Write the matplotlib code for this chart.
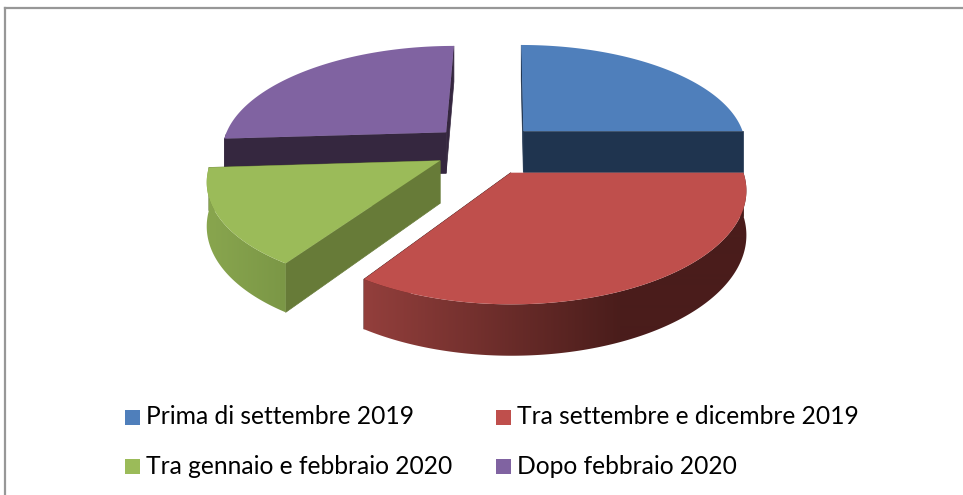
import numpy as np
import matplotlib
matplotlib.use('Agg')
import matplotlib.pyplot as plt
from matplotlib.colors import to_rgb
from matplotlib.patches import Polygon, Rectangle

labels = ['Prima di settembre 2019', 'Tra settembre e dicembre 2019',
          'Tra gennaio e febbraio 2020', 'Dopo febbraio 2020']
values = [25, 34.3, 14.7, 26]
top_colors = ['#4f7fbb', '#bf4f4c', '#9bbb59', '#8063a1']
face_colors = ['#1f344f', '#4a1d1b', '#677b38', '#35273f']
rim_left = ['#1f344f', '#933f3c', '#88a54e', '#35273f']
rim_right = ['#1f344f', '#4a1d1b', '#7b9746', '#35273f']
# x pixels over which the rim colour runs from left to right
rim_span = [(0, 963), (365, 620), (210, 285), (0, 963)]
explode = [0.25, 0.25, 0.22, 0.24]

# projection of the pie plane to pixels
cx, cy = 484, 149
vx = 507
ax_x, ax_y = 225, 104
persp = 0.15
depth = 42


def project(x, y, z=0):
    s = 1 / (1 + persp * y)
    return vx + (ax_x * x + cx - vx) * s, cy - ax_y * y * s + depth * z * s


def rim_image(i):
    xs = np.arange(963)
    t = np.clip((xs - rim_span[i][0]) / (rim_span[i][1] - rim_span[i][0]), 0, 1)
    a = np.array(to_rgb(rim_left[i]))
    b = np.array(to_rgb(rim_right[i]))
    return (a + (b - a) * t[:, None])[None, :, :]


def draw_slice(ax, start, end, i, z):
    # angles in degrees, clockwise from start to end
    mid = np.radians((start + end) / 2)
    ox, oy = explode[i] * np.cos(mid), explode[i] * np.sin(mid)
    th = np.radians(np.linspace(start, end, 240))
    xs = ox + np.cos(th)
    ys = oy + np.sin(th)

    # radial side faces
    for k in [0, -1]:
        a = project(ox, oy)
        b = project(xs[k], ys[k])
        c = project(xs[k], ys[k], 1)
        d = project(ox, oy, 1)
        ax.fill([a[0], b[0], c[0], d[0]], [a[1], b[1], c[1], d[1]],
                color=face_colors[i], lw=0.5, zorder=z)

    # outer rim with a gradient, only the part facing us
    front = np.sin(th) <= 0
    if front.sum() > 1:
        tx, ty = project(xs[front], ys[front])
        bx, by = project(xs[front], ys[front], 1)
        rim = Polygon(np.c_[np.r_[tx, bx[::-1]], np.r_[ty, by[::-1]]],
                      closed=True, transform=ax.transData, fc='none', ec='none')
        ax.add_patch(rim)
        im = ax.imshow(rim_image(i), extent=(0, 963, 495, 0), aspect='auto',
                       interpolation='bilinear', zorder=z + 1)
        im.set_clip_path(rim)

    # top
    px, py = project(np.r_[ox, xs], np.r_[oy, ys])
    ax.fill(px, py, color=top_colors[i], lw=0, zorder=z + 2)


fig = plt.figure(figsize=(9.63, 4.95), dpi=100)
ax = fig.add_axes([0, 0, 1, 1])
ax.axis('off')

# slice angles from the values, clockwise from 12 o'clock
angles = 90 - np.cumsum([0] + values) / sum(values) * 360
for n, i in enumerate([3, 0, 2, 1]):
    draw_slice(ax, angles[i], angles[i + 1], i, 10 * (n + 1))

ax.set_xlim(0, 963)
ax.set_ylim(495, 0)

# chart frame
ax.plot([5, 5], [495, 8], color='#979797', lw=1.6, zorder=60)
ax.plot([5, 963], [8, 8], color='#979797', lw=1.6, zorder=60)

# legend
plt.rcParams['font.family'] = ['Lato', 'DejaVu Sans']
col_x = [125, 496]
row_y = [417, 466]
for i, lab in enumerate(labels):
    x = col_x[i % 2]
    y = row_y[i // 2]
    ax.add_patch(Rectangle((x, y - 7.5), 15, 15, color=top_colors[i], lw=0))
    ax.text(x + 21, y, lab, fontsize=17.7, color='#000000', va='center', ha='left')

fig.savefig('out.png', dpi=100)
